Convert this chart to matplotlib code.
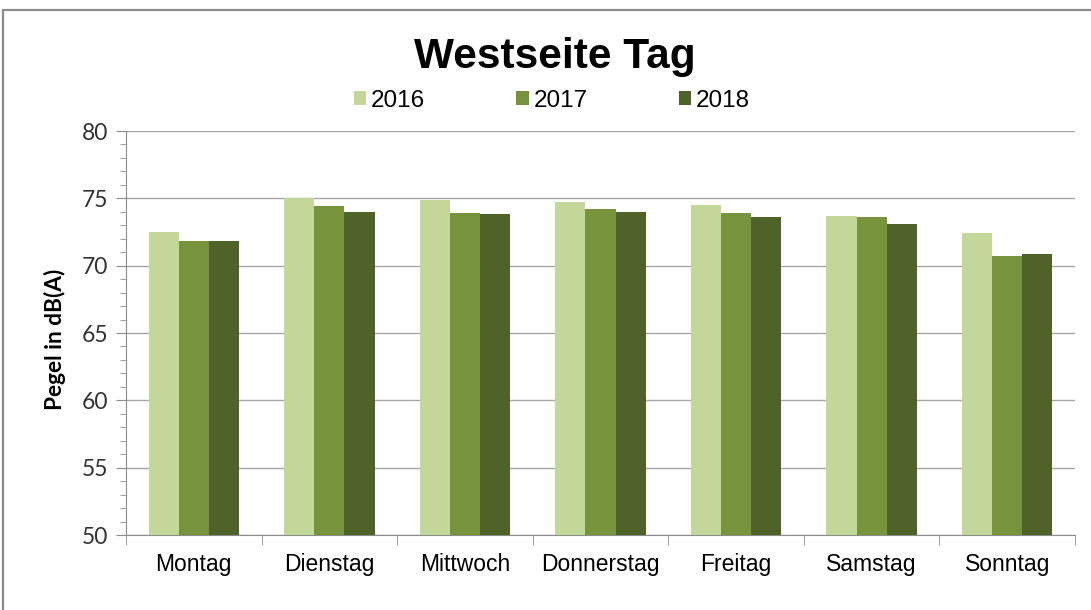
import matplotlib
matplotlib.use("Agg")
import matplotlib.pyplot as plt
import numpy as np
from matplotlib.patches import Rectangle
from matplotlib.ticker import MultipleLocator

days = ["Montag", "Dienstag", "Mittwoch", "Donnerstag", "Freitag", "Samstag", "Sonntag"]
years = ["2016", "2017", "2018"]
v2016 = [72.5, 75.0, 74.9, 74.7, 74.5, 73.7, 72.4]
v2017 = [71.8, 74.4, 73.9, 74.2, 73.9, 73.6, 70.7]
v2018 = [71.8, 74.0, 73.8, 74.0, 73.6, 73.1, 70.9]
colors = ["#C4D79B", "#77933C", "#4F6228"]

W, H = 1091, 610
fig = plt.figure(figsize=(W / 100, H / 100), dpi=100)
ax = fig.add_axes([126 / W, 1 - 535 / H, (1075 - 126) / W, (535 - 131) / H])

# outer chart border
fig.patches.append(Rectangle((3 / W, -0.1), 1.2, 1 - 10 / H + 0.1, transform=fig.transFigure,
                             fill=False, edgecolor="#8c8c8c", linewidth=1.6))

x = np.arange(len(days))
bw = 0.222
for i, (vals, c, lab) in enumerate(zip([v2016, v2017, v2018], colors, years)):
    ax.bar(x + (i - 1) * bw, vals, width=bw, color=c, label=lab, zorder=3)

ax.set_ylim(50, 80)
ax.set_xlim(-0.5, len(days) - 0.5)
ax.yaxis.set_major_locator(MultipleLocator(5))
ax.yaxis.set_minor_locator(MultipleLocator(1))
ax.grid(axis="y", which="major", color="#a6a6a6", linewidth=1.0, zorder=0)

ax.set_xticks(x)
ax.set_xticklabels(days, fontsize=16.5, family="Liberation Sans")
ax.set_xticks(np.arange(-0.5, len(days)), minor=True)
ax.tick_params(axis="x", which="major", length=0, pad=13)
ax.tick_params(axis="x", which="minor", length=7, color="#8c8c8c", direction="out")
ax.tick_params(axis="y", which="major", length=7, color="#8c8c8c", labelsize=16.5, pad=6)
ax.tick_params(axis="y", which="minor", length=4, color="#8c8c8c")
for lbl in ax.get_yticklabels():
    lbl.set_family("Lato")
    lbl.set_color("#333333")

for s in ["top", "right"]:
    ax.spines[s].set_visible(False)
ax.spines["left"].set_color("#8c8c8c")
ax.spines["bottom"].set_color("#8c8c8c")

ax.set_ylabel("Pegel in dB(A)", fontsize=16.3, fontweight="bold", family="Lato")
ax.yaxis.set_label_coords(-0.063, 0.483)

fig.text(555 / W, 1 - 57 / H, "Westseite Tag", ha="center", va="center",
         fontsize=30.5, fontweight="bold", family="Liberation Sans")

leg = fig.legend(loc="center", bbox_to_anchor=(552 / W, 1 - 101 / H), ncol=3, frameon=False,
                 prop={"family": "Liberation Sans", "size": 17.5},
                 handlelength=0.5, handleheight=0.5, handletextpad=0.2, columnspacing=3.75)

fig.savefig("out.png", dpi=100)
